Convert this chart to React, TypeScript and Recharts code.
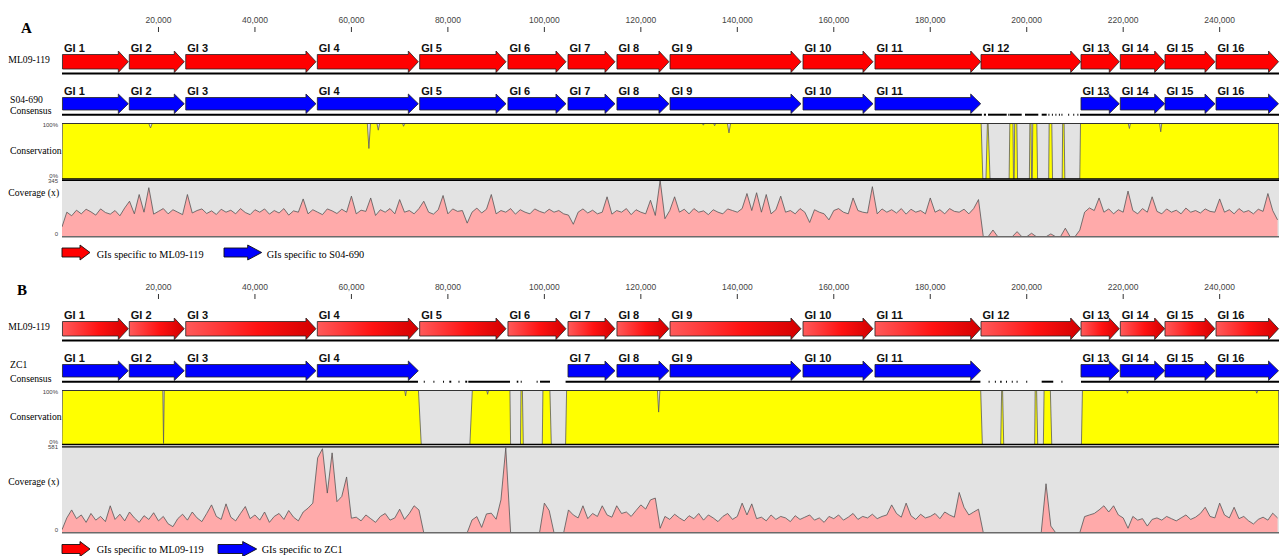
import React from 'react';
import {
  AreaChart,
  Area,
  ComposedChart,
  XAxis,
  YAxis,
  CartesianGrid,
  ReferenceArea,
  ReferenceLine,
} from 'recharts';

// genome coordinates (bp)
const GENOME_END = 252300;
const axisTicks = [20000, 40000, 60000, 80000, 100000, 120000, 140000, 160000, 180000, 200000, 220000, 240000];

const giNames = ['GI 1', 'GI 2', 'GI 3', 'GI 4', 'GI 5', 'GI 6', 'GI 7', 'GI 8', 'GI 9', 'GI 10', 'GI 11', 'GI 12', 'GI 13', 'GI 14', 'GI 15', 'GI 16'];
const giStart = [100, 13950, 25650, 52930, 74150, 92450, 104900, 115050, 126050, 153620, 168540, 190520, 211250, 219400, 228660, 239240];
const giEnd = [13750, 25350, 52650, 73870, 92050, 104480, 114640, 125830, 153200, 168130, 190460, 211190, 219190, 228600, 239030, 252200];

// GIs found in each query genome
const s04690GIs = ['GI 1', 'GI 2', 'GI 3', 'GI 4', 'GI 5', 'GI 6', 'GI 7', 'GI 8', 'GI 9', 'GI 10', 'GI 11', 'GI 13', 'GI 14', 'GI 15', 'GI 16'];
const zc1GIs = ['GI 1', 'GI 2', 'GI 3', 'GI 4', 'GI 7', 'GI 8', 'GI 9', 'GI 10', 'GI 11', 'GI 13', 'GI 14', 'GI 15', 'GI 16'];

// consensus line pieces [start, end]
const consLineA: [number, number][] = [
  [0, 190700], [191120, 191550], [191970, 195850], [196180, 196430], [196530, 198960], [199640, 202400],
  [203100, 204140], [204500, 204700], [205220, 205420], [205950, 206150], [206670, 206870], [207200, 207400],
  [208600, 208800], [209650, 209850], [210500, 210700], [211040, 252300],
];
const consLineB: [number, number][] = [
  [0, 73800], [75000, 75200], [77000, 77200], [79000, 79200], [80300, 80700], [82200, 82400], [83600, 84000],
  [84230, 92880], [94270, 94600], [95100, 95300], [98400, 98600], [99100, 101170], [104400, 190400],
  [192100, 192300], [193400, 193600], [194500, 194800], [195700, 195900], [196900, 197100], [197900, 198100],
  [199900, 200100], [203100, 205500], [207200, 207400], [211250, 252300],
];

// conservation (%) [bp, value]
const consA: [number, number][] = [
  [0, 0], [100, 100],
  [18000, 100], [18350, 92], [18700, 100],
  [63300, 100], [63620, 55], [63950, 100],
  [65300, 100], [65570, 88], [65850, 100],
  [70600, 100], [70810, 95], [71050, 100],
  [132750, 100], [132960, 97], [133150, 100],
  [135100, 100], [135300, 96], [135500, 100],
  [137950, 100], [138270, 83], [138600, 100],
  [190550, 100], [190900, 0],
  [191550, 0], [191850, 100], [192000, 100], [192400, 0],
  [196350, 0], [196500, 100], [197150, 100], [197250, 0], [197400, 0], [197500, 100], [197950, 100], [198100, 0],
  [200550, 0], [200650, 100], [200900, 100], [201000, 0], [201150, 0], [201250, 100], [202100, 100], [202250, 0],
  [204550, 0], [204650, 100], [205200, 100], [205350, 0],
  [207350, 0], [207450, 100], [207750, 100], [207900, 0],
  [211000, 0], [211150, 100],
  [221050, 100], [221290, 91], [221500, 100],
  [227550, 100], [227780, 85], [228000, 100],
  [252200, 100], [252300, 0],
];
const consB: [number, number][] = [
  [0, 0], [100, 100],
  [20900, 100], [21050, 2], [21200, 100],
  [71050, 100], [71230, 90], [71400, 100],
  [73900, 100], [74480, 0],
  [84560, 0], [85060, 100],
  [88050, 100], [88230, 93], [88400, 100],
  [92860, 100], [93000, 0],
  [95050, 0], [95150, 100], [95450, 100], [95630, 0],
  [99570, 0], [99700, 100], [101150, 100], [101440, 0],
  [104400, 0], [104610, 100],
  [123450, 100], [123690, 60], [123950, 100],
  [190460, 100], [190800, 0],
  [194600, 0], [194800, 100], [195000, 100], [195230, 0],
  [201650, 0], [201750, 100], [202050, 100], [202280, 0],
  [203450, 0], [203600, 100], [204900, 100], [205190, 0],
  [211340, 0], [211550, 100],
  [220700, 100], [220880, 95], [221050, 100],
  [247500, 100], [247690, 95], [247900, 100],
  [252200, 100], [252300, 0],
];

// read coverage (x), one value every COV_STEP bp
const COV_STEP = 1000;
const covAMax = 345;
const covA = [
  60, 150, 128, 162, 140, 168, 152, 132, 170, 148, 138, 160, 128, 176, 217, 140, 258, 150, 300, 138,
  155, 172, 140, 165, 150, 135, 258, 145, 160, 170, 142, 158, 136, 168, 150, 162, 140, 172, 148, 135,
  165, 150, 170, 138, 160, 145, 172, 132, 158, 150, 231, 140, 165, 150, 135, 170, 158, 142, 168, 150,
  248, 140, 162, 155, 237, 130, 165, 150, 172, 140, 227, 150, 160, 140, 172, 217, 150, 138, 165, 252,
  140, 170, 155, 160, 83, 150, 175, 145, 168, 258, 140, 160, 150, 172, 138, 165, 150, 140, 170, 155,
  145, 168, 150, 160, 140, 132, 76, 150, 170, 145, 162, 140, 150, 244, 138, 160, 150, 172, 135, 165,
  150, 140, 223, 130, 345, 110, 160, 244, 150, 168, 140, 172, 150, 158, 135, 165, 150, 140, 170, 160,
  150, 172, 264, 160, 269, 150, 258, 140, 165, 248, 150, 160, 140, 172, 150, 87, 165, 150, 140, 103,
  160, 172, 150, 140, 237, 160, 150, 145, 306, 140, 170, 150, 165, 145, 172, 138, 168, 150, 160, 140,
  237, 150, 165, 140, 172, 155, 150, 168, 140, 172, 227, 0, 0, 41, 0, 0, 0, 0, 31, 0,
  0, 21, 0, 0, 0, 17, 0, 0, 52, 0, 0, 40, 150, 176, 160, 237, 150, 170, 140, 165,
  150, 279, 160, 140, 172, 150, 244, 155, 140, 170, 150, 162, 140, 175, 150, 160, 145, 170, 155, 150,
  231, 150, 165, 140, 172, 150, 160, 140, 168, 155, 264, 160, 103,
];
const covBMax = 581;
const covB = [
  20, 100, 154, 95, 120, 70, 130, 85, 110, 75, 182, 90, 125, 80, 140, 100, 70, 115, 90, 135,
  80, 110, 60, 41, 95, 125, 85, 140, 100, 75, 130, 188, 110, 90, 195, 105, 80, 130, 177, 95,
  120, 85, 140, 70, 110, 130, 90, 150, 105, 80, 140, 166, 200, 506, 568, 268, 540, 210, 245, 377,
  98, 105, 80, 120, 95, 70, 110, 130, 85, 100, 159, 90, 130, 182, 154, 0, 0, 0, 0, 0,
  0, 0, 0, 0, 0, 86, 109, 36, 127, 132, 91, 222, 574, 0, 0, 0, 0, 0, 0, 0,
  200, 150, 0, 0, 0, 154, 120, 100, 182, 95, 130, 110, 182, 120, 105, 182, 130, 140, 110, 150,
  188, 160, 222, 234, 30, 110, 90, 125, 100, 80, 115, 95, 130, 85, 120, 100, 75, 110, 130, 90,
  110, 200, 120, 195, 95, 105, 80, 120, 90, 110, 100, 75, 115, 90, 105, 120, 85, 100, 70, 110,
  95, 120, 85, 105, 130, 90, 110, 100, 125, 95, 110, 120, 188, 130, 105, 200, 115, 90, 125, 100,
  110, 130, 95, 140, 120, 105, 272, 172, 120, 140, 159, 0, 0, 0, 0, 0, 0, 0, 0, 0,
  0, 0, 0, 0, 331, 45, 0, 0, 0, 0, 0, 0, 109, 120, 130, 154, 182, 140, 182, 120,
  100, 30, 110, 85, 95, 45, 90, 100, 85, 110, 95, 80, 100, 120, 90, 105, 130, 172, 110, 100,
  200, 120, 100, 172, 95, 110, 80, 59, 90, 105, 85, 132, 100,
];

const SANS = '"Liberation Sans", Arial, sans-serif';
const SERIF = '"Liberation Serif", "Times New Roman", serif';
const W = 1283;
const MARGIN_L = 62;
const MARGIN_R = 4;

const fmtBp = (v: number) => v.toLocaleString('en-US');

function GiArrow(props: any) {
  const { x, y, width, height, name, fill, gradId, inset } = props;
  const head = 10;
  const top = y + inset;
  const bot = y + height - inset;
  const mid = y + height / 2;
  const hx = x + width - head;
  const pts = `${x},${top} ${hx},${top} ${hx},${y} ${x + width},${mid} ${hx},${y + height} ${hx},${bot} ${x},${bot}`;
  return (
    <g>
      {gradId && (
        <defs>
          <linearGradient id={gradId} x1="0" y1="0" x2="1" y2="0">
            <stop offset="0%" stopColor="#ff5a5a" />
            <stop offset="55%" stopColor="#ff1212" />
            <stop offset="100%" stopColor="#d20000" />
          </linearGradient>
        </defs>
      )}
      <polygon points={pts} fill={fill} stroke="#222" strokeWidth={0.8} />
      <text x={x + 1.5} y={top - 2.5} fontSize={11} fontWeight="bold" fontFamily={SANS} fill="#111">
        {name}
      </text>
    </g>
  );
}

function GenomeMap({
  top,
  queryGIs,
  consensus,
  gradient,
  id,
}: {
  top: number;
  queryGIs: string[];
  consensus: [number, number][];
  gradient: boolean;
  id: string;
}) {
  const data = giStart.map((s) => ({ x: s }));
  return (
    <div style={{ position: 'absolute', left: 0, top }}>
      <ComposedChart width={W} height={120} data={data} margin={{ top: 0, right: MARGIN_R, bottom: 0, left: MARGIN_L }}>
        <XAxis
          type="number"
          dataKey="x"
          orientation="top"
          domain={[0, GENOME_END]}
          allowDataOverflow
          ticks={axisTicks}
          tickFormatter={fmtBp}
          interval={0}
          height={32}
          tickSize={5}
          tickMargin={4}
          axisLine={false}
          tickLine={{ stroke: '#333', strokeWidth: 1 }}
          tick={{ fontSize: 8.5, fill: '#444', fontFamily: SANS }}
        />
        <YAxis type="number" hide domain={[0, 88]} allowDataOverflow reversed />
        {giNames.map((name, i) => (
          <ReferenceArea
            key={id + 'r' + i}
            x1={giStart[i]}
            x2={giEnd[i]}
            y1={19}
            y2={40.5}
            shape={(p: any) => (
              <GiArrow
                {...p}
                name={name}
                inset={3.5}
                fill={gradient ? `url(#${id}-g${i})` : '#ff0000'}
                gradId={gradient ? `${id}-g${i}` : undefined}
              />
            )}
          />
        ))}
        <ReferenceLine y={41.5} stroke="#000" strokeWidth={2} />
        {giNames.map((name, i) =>
          queryGIs.includes(name) ? (
            <ReferenceArea
              key={id + 'q' + i}
              x1={giStart[i]}
              x2={giEnd[i]}
              y1={62}
              y2={81.5}
              shape={(p: any) => <GiArrow {...p} name={name} inset={3.5} fill="#0000ff" />}
            />
          ) : null,
        )}
        {consensus.map(([a, b], i) => (
          <ReferenceLine
            key={id + 'c' + i}
            segment={[
              { x: a, y: 82.7 },
              { x: b, y: 82.7 },
            ]}
            stroke="#000"
            strokeWidth={2}
          />
        ))}
      </ComposedChart>
    </div>
  );
}

const edgeTick = (maxV: number, fmt: (v: number) => string, dTop: number, dBot: number) => (p: any) => {
  const v = p.payload.value;
  return (
    <text x={p.x} y={p.y + (v === maxV ? dTop : dBot)} textAnchor="end" fontSize={6} fill="#444" fontFamily={SANS}>
      {fmt(v)}
    </text>
  );
};

function ConservationTrack({ top, height, mTop, mBottom, points }: { top: number; height: number; mTop: number; mBottom: number; points: [number, number][] }) {
  const data = points.map(([x, v]) => ({ x, v }));
  return (
    <div style={{ position: 'absolute', left: 0, top }}>
      <AreaChart width={W} height={height} data={data} margin={{ top: mTop, right: MARGIN_R, bottom: mBottom, left: MARGIN_L - 10 }}>
        <CartesianGrid fill="#e3e3e3" stroke="none" horizontal={false} vertical={false} />
        <XAxis type="number" dataKey="x" domain={[0, GENOME_END]} allowDataOverflow hide />
        <YAxis
          type="number"
          domain={[0, 100]}
          allowDataOverflow
          ticks={[0, 100]}
          interval={0}
          width={10}
          axisLine={false}
          tickLine={false}
          tickSize={0}
          tickMargin={4}
          tick={edgeTick(100, (v) => v + '%', 3.2, -0.8)}
        />
        <Area type="linear" dataKey="v" stroke="#5a5a5a" strokeWidth={0.8} fill="#ffff00" fillOpacity={1} dot={false} activeDot={false} isAnimationActive={false} />
        <ReferenceLine y={100} stroke="#333" strokeWidth={1} />
        <ReferenceLine y={0} stroke="#000" strokeWidth={1.3} />
      </AreaChart>
    </div>
  );
}

function CoverageTrack({ top, height, mTop, mBottom, values, maxV }: { top: number; height: number; mTop: number; mBottom: number; values: number[]; maxV: number }) {
  const data = values.map((v, i) => ({ x: i * COV_STEP, v }));
  return (
    <div style={{ position: 'absolute', left: 0, top }}>
      <AreaChart width={W} height={height} data={data} margin={{ top: mTop, right: MARGIN_R, bottom: mBottom, left: MARGIN_L - 10 }}>
        <CartesianGrid fill="#e3e3e3" stroke="none" horizontal={false} vertical={false} />
        <XAxis type="number" dataKey="x" domain={[0, GENOME_END]} allowDataOverflow hide />
        <YAxis
          type="number"
          domain={[0, maxV]}
          allowDataOverflow
          ticks={[0, maxV]}
          interval={0}
          width={10}
          axisLine={false}
          tickLine={false}
          tickSize={0}
          tickMargin={4}
          tick={edgeTick(maxV, (v) => String(v), 2.4, -0.6)}
        />
        <Area type="linear" dataKey="v" stroke="#555" strokeWidth={0.8} fill="#ffaaaa" fillOpacity={1} dot={false} activeDot={false} isAnimationActive={false} />
        <ReferenceLine y={maxV} stroke="#000" strokeWidth={1.3} />
        <ReferenceLine y={0} stroke="#6a6a6a" strokeWidth={1.5} />
      </AreaChart>
    </div>
  );
}

function LegendArrow({ x, y, w, h, head, fill }: { x: number; y: number; w: number; h: number; head: number; fill: string }) {
  const inset = h * 0.2;
  const hx = x + w - head;
  const pts = `${x},${y + inset} ${hx},${y + inset} ${hx},${y} ${x + w},${y + h / 2} ${hx},${y + h} ${hx},${y + h - inset} ${x},${y + h - inset}`;
  return <polygon points={pts} fill={fill} stroke="#111" strokeWidth={0.9} />;
}

function Labels() {
  const lab = { fontFamily: SERIF, fontSize: 9.7, fill: '#000' } as const;
  const leg = { fontFamily: SERIF, fontSize: 10.3, fill: '#000' } as const;
  return (
    <svg width={W} height={556} style={{ position: 'absolute', left: 0, top: 0 }}>
      <text x={21} y={33} fontFamily={SERIF} fontSize={15} fontWeight="bold">A</text>
      <text x={8.3} y={62.7} {...lab}>ML09-119</text>
      <text x={10} y={103.3} {...lab}>S04-690</text>
      <text x={10} y={114} {...lab}>Consensus</text>
      <text x={10} y={154} {...lab}>Conservation</text>
      <text x={8.3} y={195.7} {...lab}>Coverage (x)</text>
      <LegendArrow x={62} y={245} w={28} h={15} head={10} fill="#ff0000" />
      <text x={96.7} y={257.5} {...leg}>GIs specific to ML09-119</text>
      <LegendArrow x={224} y={245} w={37.7} h={15} head={14} fill="#0000ff" />
      <text x={266.7} y={257.5} {...leg}>GIs specific to S04-690</text>

      <text x={17} y={295} fontFamily={SERIF} fontSize={15} fontWeight="bold">B</text>
      <text x={8.3} y={329.5} {...lab}>ML09-119</text>
      <text x={10} y={367.5} {...lab}>ZC1</text>
      <text x={10} y={381.5} {...lab}>Consensus</text>
      <text x={10} y={420} {...lab}>Conservation</text>
      <text x={8.3} y={484.5} {...lab}>Coverage (x)</text>
      <LegendArrow x={62} y={541.5} w={28} h={15} head={10} fill="#ff0000" />
      <text x={96.7} y={552.7} {...leg}>GIs specific to ML09-119</text>
      <LegendArrow x={218} y={541.5} w={38.7} h={15} head={14} fill="#0000ff" />
      <text x={261.7} y={552.7} {...leg}>GIs specific to ZC1</text>
    </svg>
  );
}

export default function App() {
  return (
    <div style={{ position: 'absolute', left: 0, top: 0, width: W, height: 556, background: '#fff', overflow: 'hidden' }}>
      <Labels />
      <GenomeMap top={0} queryGIs={s04690GIs} consensus={consLineA} gradient={false} id="pa" />
      <ConservationTrack top={120} height={63} mTop={3.5} mBottom={4} points={consA} />
      <CoverageTrack top={174} height={66} mTop={6.3} mBottom={3.3} values={covA} maxV={covAMax} />

      <GenomeMap top={266.5} queryGIs={zc1GIs} consensus={consLineB} gradient={true} id="pb" />
      <ConservationTrack top={387} height={62} mTop={3.5} mBottom={4.5} points={consB} />
      <CoverageTrack top={440} height={96} mTop={6.8} mBottom={3.3} values={covB} maxV={covBMax} />
    </div>
  );
}
